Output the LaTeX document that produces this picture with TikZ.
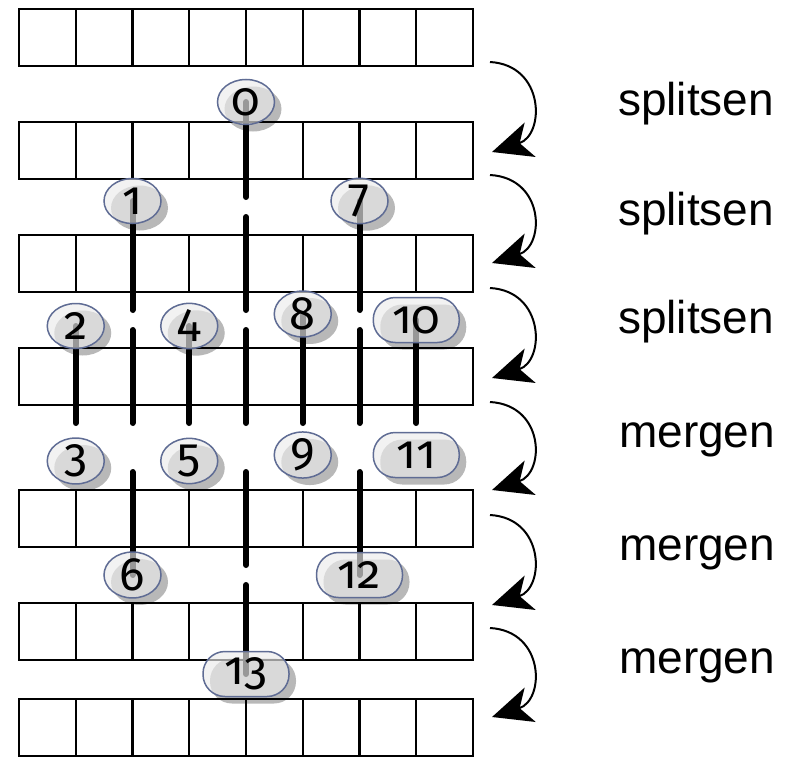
\documentclass[tikz,border=0pt]{standalone}
\usepackage{fontspec}
\setmainfont{Liberation Sans}
\newfontfamily\numfont[Numbers=OldStyle]{Fira Sans}
\usepackage{tikz}
\usetikzlibrary{arrows.meta, positioning, shapes.geometric, shadows, backgrounds}
\definecolor{tagborder}{HTML}{5F6C94}
\definecolor{taggray}{HTML}{EBEBEB}
\tikzset{steptip/.tip={Stealth[length=40pt, width=36pt, inset=11pt]}}

\begin{document}
\begin{tikzpicture}[
    x=1pt, y=-1pt,
    cell/.style={draw, line width=2.2pt, minimum width=56.75pt,
                 minimum height=57pt, inner sep=0pt},
    tag/.style={ellipse, draw=tagborder, line width=1.5pt, fill=taggray,
                fill opacity=0.65, text opacity=1, inner sep=0pt,
                minimum width=57pt, minimum height=45pt,
                font=\numfont\fontsize{47}{47}\selectfont,
                drop shadow={shadow xshift=7pt, shadow yshift=-7pt,
                             fill=black, opacity=0.28}},
    widetag/.style={tag, rectangle, rounded corners=22pt, minimum width=86pt},
    lane/.style={line width=6pt, line cap=round},
    steparrow/.style={line width=2pt, -steptip},
    action/.style={anchor=base west, inner sep=0pt,
                   font=\fontsize{46}{46}\selectfont},
]
    \useasboundingbox (0,0) rectangle (794,757);

    % Arrays
    \foreach \r/\y in {1/37.5, 2/150.5, 3/263.5, 4/376.5, 5/518.5, 6/631.5, 7/727.5}
        \foreach \c in {1,...,8}
            \node[cell] (row\r-\c) at ({19+56.75*\c-28.375},\y) {};

    % Tags
    \node[tag] (t0) at (246,102) {0};
    \node[tag] (t1) at (132.5,201) {1};
    \node[tag] (t7) at (359.5,201) {7};
    \node[tag] (t2) at (75.75,326) {2};
    \node[tag] (t4) at (189.25,326) {4};
    \node[tag] (t8) at (302.75,314) {8};
    \node[widetag] (t10) at (416.25,320) {10};
    \node[tag] (t3) at (75.75,461) {3};
    \node[tag] (t5) at (189.25,461) {5};
    \node[tag] (t9) at (302.75,455) {9};
    \node[widetag] (t11) at (416.25,455) {11};
    \node[tag] (t6) at (132.5,575) {6};
    \node[widetag] (t12) at (359.5,575) {12};
    \node[widetag] (t13) at (246,674) {13};

    % Steps
    \node[action] (split1) at (618,116) {splitsen};
    \node[action] (split2) at (618,225) {splitsen};
    \node[action] (split3) at (618,333) {splitsen};
    \node[action] (merge1) at (619,447) {mergen};
    \node[action] (merge2) at (619,560) {mergen};
    \node[action] (merge3) at (619,673) {mergen};

    % Step arrows
    \foreach \i/\ya/\yb in {1/62/152, 2/175/263, 3/288/378, 4/402/490, 5/515/605, 6/628/717} {
        \coordinate (from\i) at (490,\ya);
        \coordinate (to\i) at (492,\yb);
        \draw[steparrow] (from\i) .. controls +(55,3) and +(53,-17) .. (to\i);
    }

    % Lanes
    \coordinate (e0) at (246,197);
    \coordinate (e1) at (132.5,310);
    \coordinate (e7) at (359.5,310);
    \coordinate (e2) at (75.75,423);
    \coordinate (e4) at (189.25,423);
    \coordinate (e8) at (302.75,423);
    \coordinate (e10) at (416.25,423);
    \coordinate (s6) at (132.5,472);
    \coordinate (s12) at (359.5,472);
    \coordinate (s13) at (246,585);
    \begin{scope}[on background layer]
        \draw[lane] (t0.center) -- (e0);
        \draw[lane] (t1.center) -- (e1);
        \draw[lane] (t7.center) -- (e7);
        \draw[lane] (t2.center) -- (e2);
        \draw[lane] (t4.center) -- (e4);
        \draw[lane] (t8.center) -- (e8);
        \draw[lane] (t10.center) -- (e10);
        \draw[lane] (s6) -- (t6.center);
        \draw[lane] (s12) -- (t12.center);
        \draw[lane] (s13) -- (t13.center);
        \foreach \x/\ya/\yb/\n in {246/217/310/a, 246/330/423/b, 132.5/330/423/c,
                                   359.5/330/423/d, 246/472/565/f} {
            \coordinate (\n top) at (\x,\ya);
            \coordinate (\n bot) at (\x,\yb);
            \draw[lane] (\n top) -- (\n bot);
        }
    \end{scope}
\end{tikzpicture}
\end{document}
